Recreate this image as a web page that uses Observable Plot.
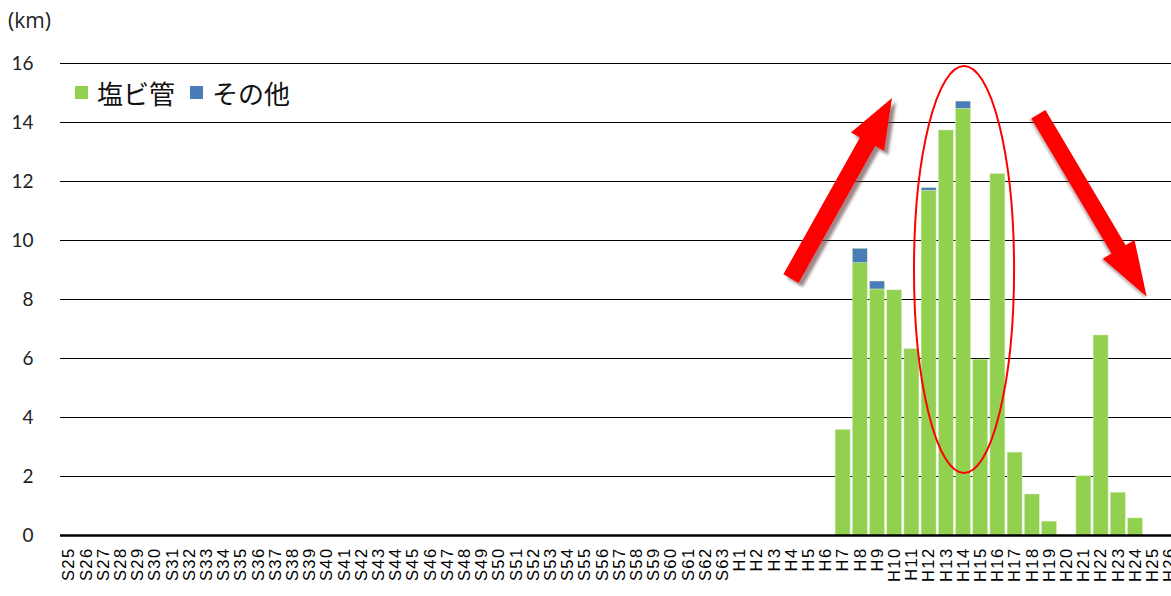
<!DOCTYPE html>
<html>
<head>
<meta charset="utf-8">
<script src="https://cdn.jsdelivr.net/npm/d3@7"></script>
<script src="https://cdn.jsdelivr.net/npm/@observablehq/plot@0.6"></script>
<style>
  html, body { margin: 0; padding: 0; background: #fff; overflow: hidden; }
  #wrap { position: relative; width: 1171px; height: 596px; overflow: hidden; background: #fff; }
  #unit { position: absolute; left: 8px; top: 6px; font-family: "Open Sans", "Liberation Sans", sans-serif; font-size: 21px; color: #222; }
  #legend { position: absolute; left: 75px; top: 74px; display: flex; align-items: center;
            font-family: "Noto Sans CJK JP", sans-serif; font-size: 26px; font-weight: 400; color: #111; }
  #legend .sw { width: 13px; height: 13px; display: inline-block; margin-right: 9px; }
  #legend .item { display: flex; align-items: center; margin-right: 15px; }
  g[aria-label="x-axis tick label"] text { letter-spacing: 1.4px; }
</style>
</head>
<body>
<div id="wrap">
  <div id="unit">(km)</div>
  <div id="legend"></div>
</div>
<script>
// ---- data ----
const categories = [
  "S25","S26","S27","S28","S29","S30","S31","S32","S33","S34","S35","S36","S37","S38","S39",
  "S40","S41","S42","S43","S44","S45","S46","S47","S48","S49","S50","S51","S52","S53","S54",
  "S55","S56","S57","S58","S59","S60","S61","S62","S63",
  "H1","H2","H3","H4","H5","H6","H7","H8","H9","H10","H11","H12","H13","H14","H15","H16",
  "H17","H18","H19","H20","H21","H22","H23","H24","H25","H26"
];
const seriesNames = ["塩ビ管", "その他"];
// 塩ビ管 (PVC pipe), km
const pvc = [
  0,0,0,0,0,0,0,0,0,0,0,0,0,0,0,
  0,0,0,0,0,0,0,0,0,0,0,0,0,0,0,
  0,0,0,0,0,0,0,0,0,
  0,0,0,0,0,0,3.58,9.23,8.34,8.31,6.32,11.68,13.73,14.46,5.96,12.25,
  2.81,1.39,0.47,0,2.01,6.78,1.45,0.58,0,0
];
// その他 (other), km
const other = [
  0,0,0,0,0,0,0,0,0,0,0,0,0,0,0,
  0,0,0,0,0,0,0,0,0,0,0,0,0,0,0,
  0,0,0,0,0,0,0,0,0,
  0,0,0,0,0,0,0,0.49,0.27,0,0,0.10,0,0.25,0,0,
  0,0,0,0,0,0,0,0,0,0
];
const yTicks = [0, 2, 4, 6, 8, 10, 12, 14, 16];
const colors = ["#92D050", "#4A7DB8"];

// annotations: [category, offset in bands, value]
const arrowTails = [["H4", 0.0, 8.69], ["H18", 0.38, 14.26]];
const arrowTips  = [["H10", -0.13, 14.81], ["H25", -0.32, 8.08]];
const ringCentre = ["H14", 0.06, 9.0];
const ringHalfBands = 2.91;
const ringTop = 15.9, ringBottom = 2.1;

// ---- chart ----
const rows = categories.flatMap((c, i) => [
  {cat: c, type: seriesNames[0], v: pvc[i]},
  {cat: c, type: seriesNames[1], v: other[i]}
]);

const plot = Plot.plot({
  width: 1178,
  height: 596,
  marginLeft: 60,
  marginRight: 0,
  marginTop: 63,
  marginBottom: 61,
  style: {maxWidth: "none", background: "transparent", overflow: "visible"},
  x: {domain: categories, paddingInner: 0.13, paddingOuter: 0.065, round: false, label: null},
  y: {domain: [0, 16], label: null},
  color: {domain: seriesNames, range: colors},
  marks: [
    Plot.ruleY(yTicks.filter(d => d > 0), {stroke: "#000", strokeWidth: 1.2}),
    Plot.barY(rows, {x: "cat", y: "v", fill: "type", stroke: "#d8eec0", strokeWidth: 0.5}),
    Plot.ruleY([0], {stroke: "#000", strokeWidth: 2.5}),
    Plot.axisY({ticks: yTicks, tickSize: 0, tickPadding: 27, fontSize: 19,
                fontFamily: "Lato, 'Liberation Sans', sans-serif", fill: "#222", label: null}),
    Plot.axisX({tickRotate: -90, tickSize: 0, tickPadding: 12, fontSize: 16.5,
                fontFamily: "'Liberation Sans', Arial, sans-serif", fill: "#000", label: null})
  ]
});

document.getElementById("wrap").prepend(plot);
plot.style.position = "absolute";
plot.style.left = "0px";
plot.style.top = "0px";

// legend
const legend = d3.select("#legend");
seriesNames.forEach((name, i) => {
  const it = legend.append("span").attr("class", "item");
  it.append("span").attr("class", "sw").style("background", colors[i]);
  it.append("span").text(name);
});

// annotations via the plot's own scales
const xs = plot.scale("x"), ys = plot.scale("y");
const px = ([cat, off, v]) => [xs.apply(cat) + xs.bandwidth / 2 + off * xs.step, ys.apply(v)];

const svg = d3.select(plot);
const defs = svg.append("defs");
const f1 = defs.append("filter").attr("id", "sh1").attr("x", "-20%").attr("y", "-20%").attr("width", "140%").attr("height", "140%");
f1.append("feDropShadow").attr("dx", 4).attr("dy", 4).attr("stdDeviation", 1.6)
  .attr("flood-color", "#6a4545").attr("flood-opacity", 0.65);
const f2 = defs.append("filter").attr("id", "sh2").attr("x", "-20%").attr("y", "-20%").attr("width", "140%").attr("height", "140%");
f2.append("feDropShadow").attr("dx", -1.5).attr("dy", 1.5).attr("stdDeviation", 1.2)
  .attr("flood-color", "#6a4545").attr("flood-opacity", 0.45);

function arrowPoints(T, P, ws, wh, hl) {
  const dx = P[0] - T[0], dy = P[1] - T[1], L = Math.hypot(dx, dy);
  const ux = dx / L, uy = dy / L, nx = -uy, ny = ux;
  const B = [P[0] - ux * hl, P[1] - uy * hl];
  const pt = (p, s) => [p[0] + nx * s, p[1] + ny * s];
  return [pt(T, ws / 2), pt(B, ws / 2), pt(B, wh / 2), P, pt(B, -wh / 2), pt(B, -ws / 2), pt(T, -ws / 2)];
}
const arrowSizes = [[17.5, 38, 50], [16.5, 37, 55]];
arrowTails.forEach((t, i) => {
  const T = px(t), P = px(arrowTips[i]);
  const [ws, wh, hl] = arrowSizes[i];
  svg.append("polygon")
    .attr("points", arrowPoints(T, P, ws, wh, hl).map(p => p.join(",")).join(" "))
    .attr("fill", "#FF0000")
    .attr("filter", `url(#sh${i + 1})`);
});

const [cx, cy] = px(ringCentre);
svg.append("ellipse")
  .attr("cx", cx)
  .attr("cy", (ys.apply(ringTop) + ys.apply(ringBottom)) / 2)
  .attr("rx", ringHalfBands * xs.step)
  .attr("ry", (ys.apply(ringBottom) - ys.apply(ringTop)) / 2)
  .attr("fill", "none")
  .attr("stroke", "#FF0000")
  .attr("stroke-width", 2);
</script>
</body>
</html>
